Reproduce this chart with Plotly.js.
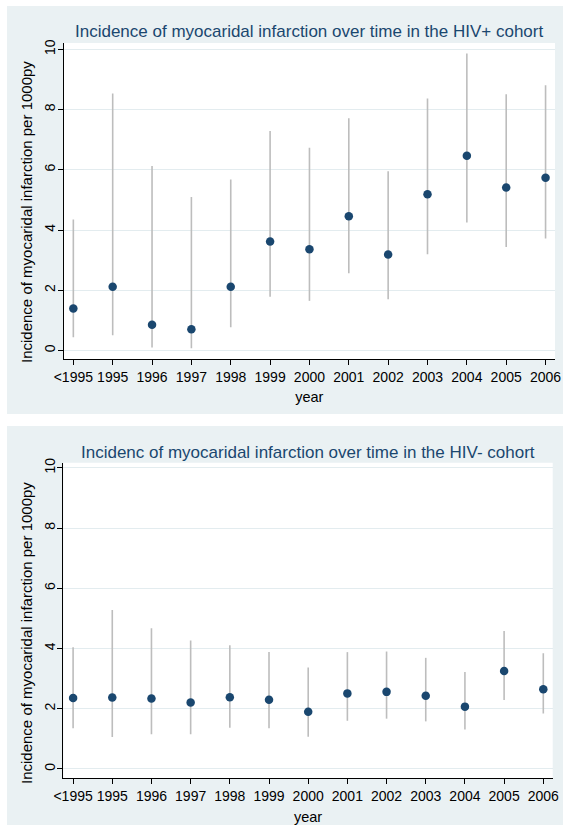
<!DOCTYPE html>
<html>
<head>
<meta charset="utf-8">
<script src="https://cdn.plot.ly/plotly-3.0.1.min.js"></script>
<style>html,body{margin:0;padding:0;background:#fff;}#chart{width:563px;height:825px;}</style>
</head>
<body>
<div id="chart"></div>
<script>
// ---- Data ----
const categories = ["<1995","1995","1996","1997","1998","1999","2000","2001","2002","2003","2004","2005","2006"];

const hivPosRate  = [1.40, 2.12, 0.86, 0.71, 2.12, 3.62, 3.36, 4.46, 3.19, 5.19, 6.47, 5.41, 5.74];
const hivPosLower = [0.44, 0.51, 0.10, 0.08, 0.77, 1.79, 1.65, 2.57, 1.70, 3.20, 4.25, 3.44, 3.72];
const hivPosUpper = [4.35, 8.53, 6.13, 5.10, 5.68, 7.29, 6.73, 7.71, 5.95, 8.37, 9.86, 8.51, 8.81];

const hivNegRate  = [2.36, 2.37, 2.34, 2.21, 2.38, 2.30, 1.90, 2.51, 2.56, 2.43, 2.07, 3.25, 2.65];
const hivNegLower = [1.35, 1.06, 1.15, 1.15, 1.37, 1.35, 1.07, 1.60, 1.67, 1.58, 1.31, 2.29, 1.84];
const hivNegUpper = [4.04, 5.28, 4.67, 4.27, 4.11, 3.88, 3.37, 3.88, 3.90, 3.69, 3.22, 4.58, 3.84];

const yTicks = [0, 2, 4, 6, 8, 10];
const title1 = "Incidence of myocaridal infarction over time in the HIV+ cohort";
const title2 = "Incidenc of myocaridal infarction over time in the HIV- cohort";
const yTitle = "Incidence of myocaridal infarction per 1000py";
const xTitle = "year";

// ---- Styles ----
const W = 563, H = 825;
const navy = "#1a476f";
const panelBg = "#eaf1f3";
const gridCol = "#e3ecef";
const ciCol = "#bdbdbd";
const font = "Liberation Sans, Arial, sans-serif";

function px(x){ return x / W; }
function py(y){ return 1 - y / H; }

function makeTrace(rate, lower, upper, xa, ya){
  return {
    type: "scatter", mode: "markers",
    x: categories, y: rate, xaxis: xa, yaxis: ya,
    marker: {color: navy, size: 8.5, line: {width: 0}},
    error_y: {
      type: "data", symmetric: false,
      array: upper.map((u, i) => u - rate[i]),
      arrayminus: lower.map((l, i) => rate[i] - l),
      color: ciCol, thickness: 1.6, width: 0
    },
    hoverinfo: "x+y", showlegend: false
  };
}

const traces = [
  makeTrace(hivPosRate, hivPosLower, hivPosUpper, "x", "y"),
  makeTrace(hivNegRate, hivNegLower, hivNegUpper, "x2", "y2")
];

function xAxis(domain, anchor){
  return {
    domain: domain, anchor: anchor, type: "category",
    range: [-0.25, 12.24],
    showgrid: false, zeroline: false,
    showline: true, linecolor: "#000", linewidth: 1,
    ticks: "outside", ticklen: 5, tickcolor: "#000", tickwidth: 1,
    tickfont: {family: font, size: 14, color: "#000"},
    title: {text: xTitle, font: {family: font, size: 14.5, color: "#000"}, standoff: 8},
    fixedrange: true
  };
}
function yAxis(domain, anchor, range){
  return {
    domain: domain, anchor: anchor, range: range,
    tickvals: yTicks, ticktext: yTicks.map(String), tickangle: -90,
    ticklabelstandoff: -3,
    showgrid: true, gridcolor: gridCol, gridwidth: 1, zeroline: false,
    showline: true, linecolor: "#000", linewidth: 1,
    ticks: "outside", ticklen: 5, tickcolor: "#000", tickwidth: 1,
    tickfont: {family: font, size: 14, color: "#000"},
    fixedrange: true
  };
}

const layout = {
  width: W, height: H,
  margin: {l: 0, r: 0, t: 0, b: 0, pad: 0},
  paper_bgcolor: "#ffffff",
  plot_bgcolor: "rgba(0,0,0,0)",
  showlegend: false,
  xaxis: xAxis([px(63.5), px(555)], "y"),
  yaxis: yAxis([py(359), py(43)], "x", [-0.28, 10.21]),
  xaxis2: xAxis([px(63.3), px(552.7)], "y2"),
  yaxis2: yAxis([py(778.3), py(462.7)], "x2", [-0.31, 10.17]),
  shapes: [
    {type: "rect", xref: "paper", yref: "paper", x0: px(7), x1: 1, y0: py(414), y1: py(6),
     fillcolor: panelBg, line: {width: 0}, layer: "below"},
    {type: "rect", xref: "paper", yref: "paper", x0: px(7), x1: 1, y0: 0, y1: py(426),
     fillcolor: panelBg, line: {width: 0}, layer: "below"},
    {type: "rect", xref: "paper", yref: "paper", x0: px(63.5), x1: px(555), y0: py(359), y1: py(43),
     fillcolor: "#ffffff", line: {width: 0}, layer: "below"},
    {type: "rect", xref: "paper", yref: "paper", x0: px(63.3), x1: px(552.7), y0: py(778.3), y1: py(462.7),
     fillcolor: "#ffffff", line: {width: 0}, layer: "below"}
  ],
  annotations: [
    {text: title1, xref: "paper", yref: "paper", x: px(309), y: py(31.5), xanchor: "center", yanchor: "middle",
     showarrow: false, font: {family: font, size: 17, color: navy}},
    {text: title2, xref: "paper", yref: "paper", x: px(308), y: py(452), xanchor: "center", yanchor: "middle",
     showarrow: false, font: {family: font, size: 17, color: navy}},
    {text: yTitle, xref: "paper", yref: "paper", x: px(26), y: py(212), xanchor: "center", yanchor: "middle",
     textangle: -90, showarrow: false, font: {family: font, size: 15, color: "#000"}},
    {text: yTitle, xref: "paper", yref: "paper", x: px(26), y: py(633), xanchor: "center", yanchor: "middle",
     textangle: -90, showarrow: false, font: {family: font, size: 15, color: "#000"}}
  ]
};

Plotly.newPlot("chart", traces, layout, {displayModeBar: false, staticPlot: true});
</script>
</body>
</html>
